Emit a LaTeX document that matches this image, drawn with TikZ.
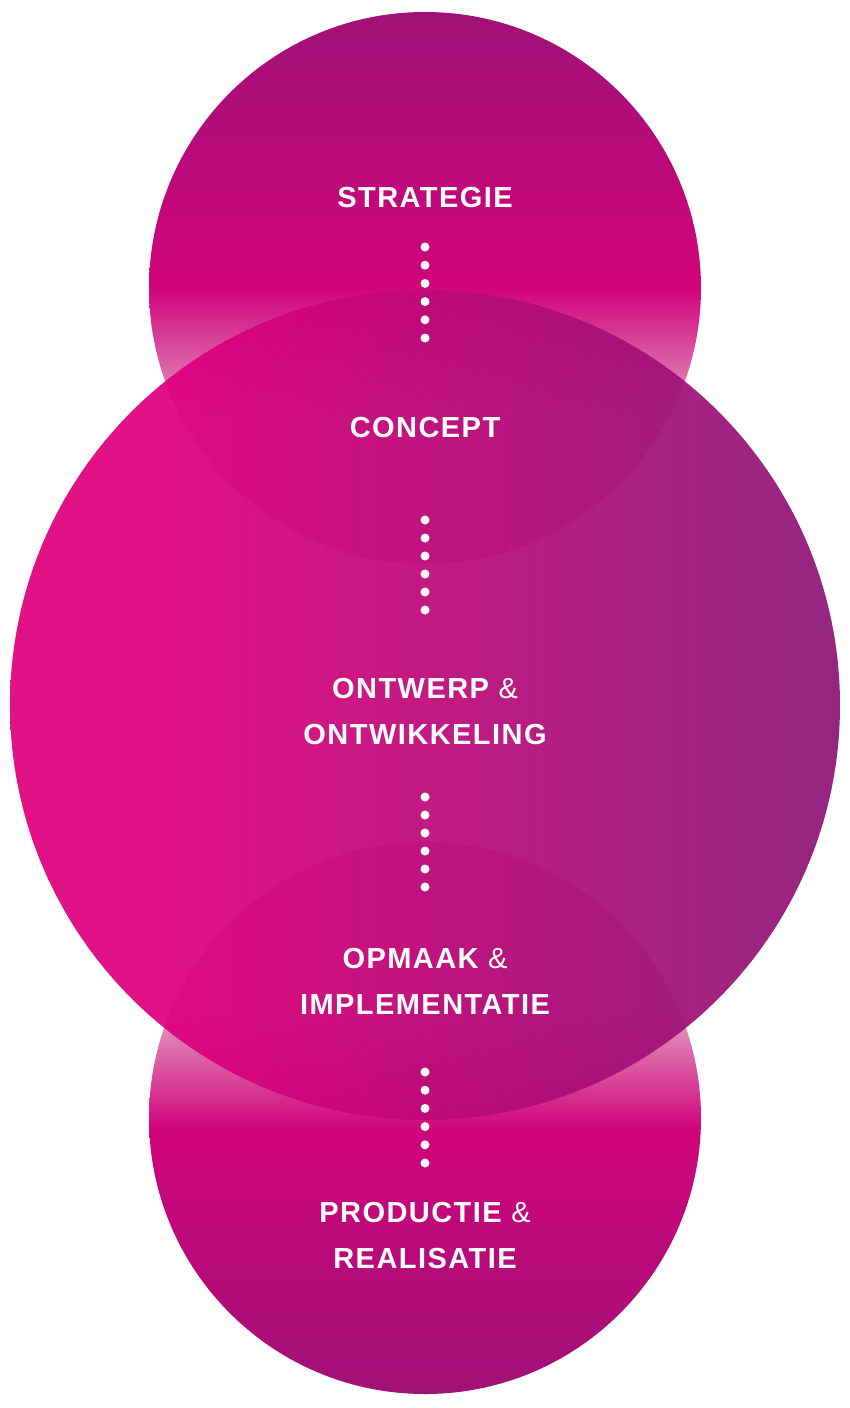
\documentclass[tikz,border=0pt]{standalone}
\usepackage{fontspec}
\setmainfont{Liberation Sans}[LetterSpace=5]
\definecolor{mag}{HTML}{DE007C}
\definecolor{pur}{HTML}{5A2474}
\definecolor{pale}{HTML}{E3A4C6}
\pgfdeclareverticalshading{topsh}{100bp}{color(0bp)=(pale);color(38bp)=(pale);color(50bp)=(mag!90!pur);color(80bp)=(mag!45!pur);color(100bp)=(pur)}
\pgfdeclareverticalshading{botsh}{100bp}{color(0bp)=(pur);color(20bp)=(mag!45!pur);color(49bp)=(mag!90!pur);color(60bp)=(pale);color(100bp)=(pale)}
\pgfdeclarehorizontalshading{bigsh}{100bp}{color(0bp)=(mag);color(35bp)=(mag);color(60bp)=(mag!60!pur);color(100bp)=(pur)}
\begin{document}
\begin{tikzpicture}[x=1pt,y=-1pt,
  lab/.style={text=white,font=\fontsize{29}{46}\selectfont\bfseries,align=center},
  dot/.style={circle,fill=white,inner sep=0pt,minimum size=9pt}]
\useasboundingbox (0,0) rectangle (850,1408);
\shade[shading=topsh] (425,288) circle (276);
\shade[shading=botsh] (425,1118) circle (276);
\shade[shading=bigsh,opacity=0.93] (425,705) circle (415);
\node[lab] (s) at (425,198) {STRATEGIE};
\node[lab] (c) at (425,428) {CONCEPT};
\node[lab] (o) at (425,712) {ONTWERP {\mdseries\&}\\ONTWIKKELING};
\node[lab] (m) at (425,981) {OPMAAK {\mdseries\&}\\IMPLEMENTATIE};
\node[lab] (p) at (425,1236) {PRODUCTIE {\mdseries\&}\\REALISATIE};
\foreach \y in {247,265.2,283.4,301.6,319.8,338,520,538,556,574,592,610,797,815,833,851,869,887,1072,1090.2,1108.4,1126.6,1144.8,1163}
  \node[dot] at (425,\y) {};
\end{tikzpicture}
\end{document}
